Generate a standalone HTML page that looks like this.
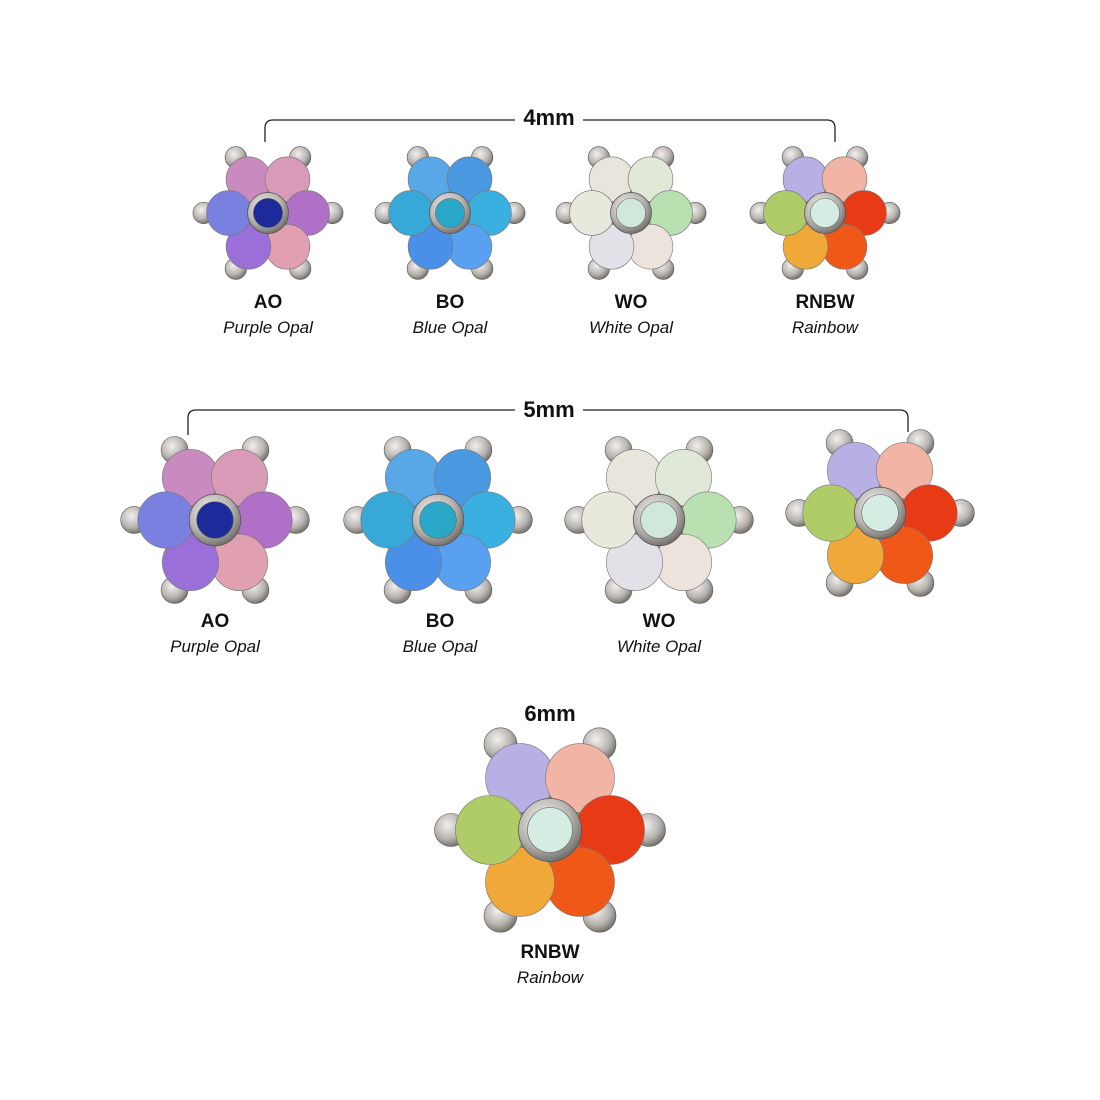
<!DOCTYPE html>
<html><head><meta charset="utf-8">
<style>
html,body{margin:0;padding:0;background:#fff;}
body{width:1100px;height:1100px;position:relative;overflow:hidden;font-family:"Liberation Sans",sans-serif;}
svg{position:absolute;left:0;top:0;}
</style></head>
<body>
<svg id="s" width="1100" height="1100" viewBox="0 0 1100 1100" xmlns="http://www.w3.org/2000/svg">
<defs>
<radialGradient id="metal" cx="40%" cy="35%" r="70%">
<stop offset="0" stop-color="#f2f0ee"/><stop offset="0.6" stop-color="#b8b4b0"/><stop offset="1" stop-color="#6a6662"/>
</radialGradient>
</defs>
<g fill="none" stroke="#222" stroke-width="1.3">
<path d="M265 142 V128 Q265 120 273 120 H515 M583 120 H827 Q835 120 835 128 V142"/>
<path d="M188 435 V418 Q188 410 196 410 H515 M583 410 H900 Q908 410 908 418 V432"/>
</g>
<g font-family="Liberation Sans, sans-serif" text-anchor="middle" fill="#111">
<text x="549" y="125" font-size="22" font-weight="bold">4mm</text>
<text x="549" y="417" font-size="22" font-weight="bold">5mm</text>
<text x="550" y="721" font-size="22" font-weight="bold">6mm</text>
<g font-size="19" font-weight="bold">
<text x="268" y="308">AO</text><text x="450" y="308">BO</text><text x="631" y="308">WO</text><text x="825" y="308">RNBW</text>
<text x="215" y="627">AO</text><text x="440" y="627">BO</text><text x="659" y="627">WO</text>
<text x="550" y="958">RNBW</text>
</g>
<g font-size="17" font-style="italic">
<text x="268" y="333">Purple Opal</text><text x="450" y="333">Blue Opal</text><text x="631" y="333">White Opal</text><text x="825" y="333">Rainbow</text>
<text x="215" y="652">Purple Opal</text><text x="440" y="652">Blue Opal</text><text x="659" y="652">White Opal</text>
<text x="550" y="983">Rainbow</text>
</g>
</g>
<g id="fl"></g>
</svg>
<script>
var NS="http://www.w3.org/2000/svg",g=document.getElementById("fl");
function el(t,a){var e=document.createElementNS(NS,t);for(var k in a)e.setAttribute(k,a[k]);g.appendChild(e);return e;}
var pal={
AO:{p:["#c98ac0","#d99ab8","#b070c8","#e0a0b0","#9a70d8","#7a80e0"],c:"#1c2a9a"},
BO:{p:["#58a8e8","#4a98e0","#3ab0e0","#5aa0f0","#4a90e8","#38a8d8"],c:"#2aa8c8"},
WO:{p:["#e8e6dc","#e0e8d8","#b8e0b0","#ece4dc","#e4e0e8","#e8e8dc"],c:"#d0e8dc"},
RN:{p:["#b8b0e4","#f2b4a4","#e83a14","#f05818","#f0a838","#b0cc68"],c:"#d4ece2"}};
function flower(cx,cy,s,k){
 var P=pal[k],d=20*s,r=11.5*s,pr=33*s;
 var ang=[-120,-60,0,60,120,180];
 for(var i=0;i<6;i++){var a=ang[i]*Math.PI/180;
  var x=cx+pr*Math.cos(a),y=cy+pr*Math.sin(a);
  el("circle",{cx:x,cy:y,r:5.5*s,fill:"url(#metal)",stroke:"#555","stroke-width":0.6});}
 el("circle",{cx:cx,cy:cy,r:d,fill:"#8a8682"});
 for(var i=0;i<6;i++){var a=ang[i]*Math.PI/180;
  el("circle",{cx:cx+d*Math.cos(a),cy:cy+d*Math.sin(a),r:r,fill:P.p[i],stroke:"#777","stroke-width":0.6});}
 el("circle",{cx:cx,cy:cy,r:10.5*s,fill:"url(#metal)",stroke:"#555","stroke-width":0.8});
 el("circle",{cx:cx,cy:cy,r:7.5*s,fill:P.c,stroke:"#666","stroke-width":0.6});
}
var s1=1.95,s2=2.45,s3=3.0;
flower(268,213,s1,"AO");flower(450,213,s1,"BO");flower(631,213,s1,"WO");flower(825,213,s1,"RN");
flower(215,520,s2,"AO");flower(438,520,s2,"BO");flower(659,520,s2,"WO");flower(880,513,s2,"RN");
flower(550,830,s3,"RN");
</script>
</body></html>
